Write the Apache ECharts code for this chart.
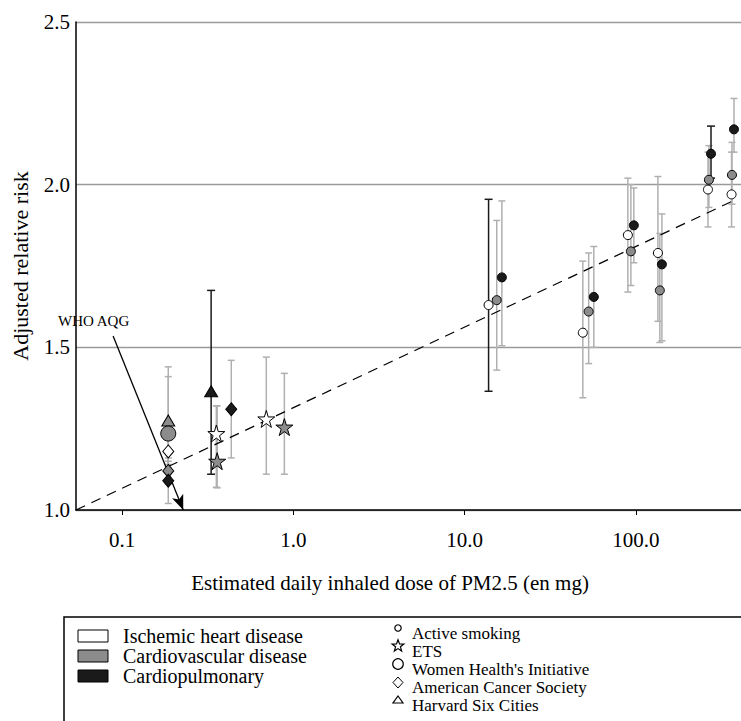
<!DOCTYPE html>
<html>
<head>
<meta charset="utf-8">
<script src="https://cdn.jsdelivr.net/npm/echarts@6.0.0/dist/echarts.min.js"></script>
<style>
  html, body { margin: 0; padding: 0; background: #fff; }
  #chart { width: 741px; height: 721px; }
</style>
</head>
<body>
<div id="chart"></div>
<script>
// dose (mg/day), adjusted RR and its CI, per estimate
var doses = [0.186, 0.186, 0.186, 0.186, 0.186,
    0.331, 0.355, 0.359, 0.434, 0.695, 0.886,
    13.8, 15.4, 16.5,
    49, 53, 56.8,
    89.8, 93.5, 97.3,
    134.5, 138, 141.9,
    263.6, 267, 274.6,
    362, 364, 374];
var riskRR = [1.275, 1.235, 1.18, 1.12, 1.09,
    1.365, 1.235, 1.15, 1.31, 1.28, 1.255,
    1.63, 1.645, 1.715,
    1.545, 1.61, 1.655,
    1.845, 1.795, 1.875,
    1.79, 1.675, 1.755,
    1.985, 2.015, 2.095,
    1.97, 2.03, 2.17];
var ciLow = [1.13, 1.09, 1.14, 1.08, 1.02,
    1.11, 1.07, 1.068, 1.16, 1.11, 1.11,
    1.365, 1.43, 1.505,
    1.345, 1.45, 1.50,
    1.67, 1.69, 1.76,
    1.58, 1.515, 1.52,
    1.87, 1.93, 2.02,
    1.87, 1.94, 2.10];
var ciHigh = [1.44, 1.41, 1.23, 1.15, 1.16,
    1.675, 1.32, 1.32, 1.46, 1.47, 1.42,
    1.955, 1.89, 1.95,
    1.765, 1.79, 1.81,
    2.02, 2.00, 1.99,
    2.025, 1.85, 1.91,
    2.10, 2.12, 2.18,
    2.10, 2.13, 2.265];
var outcome = ['CVD', 'CVD', 'IHD', 'CVD', 'CP',
    'CP', 'IHD', 'CVD', 'CP', 'IHD', 'CVD',
    'IHD', 'CVD', 'CP',
    'IHD', 'CVD', 'CP',
    'IHD', 'CVD', 'CP',
    'IHD', 'CVD', 'CP',
    'IHD', 'CVD', 'CP',
    'IHD', 'CVD', 'CP'];
var source = ['Harvard', 'WHI', 'ACS', 'ACS', 'ACS',
    'Harvard', 'ETS', 'ETS', 'ACS', 'ETS', 'ETS',
    'Smoking', 'Smoking', 'Smoking',
    'Smoking', 'Smoking', 'Smoking',
    'Smoking', 'Smoking', 'Smoking',
    'Smoking', 'Smoking', 'Smoking',
    'Smoking', 'Smoking', 'Smoking',
    'Smoking', 'Smoking', 'Smoking'];
var darkBars = [5, 11, 25];

// fitted line and WHO AQG arrow
var fitLine = [[0.0538, 1.0], [385, 1.955]];
var aqgArrow = [[0.0886, 1.535], [0.2275, 1.0]];

var xTicks = [0.1, 1, 10, 100];

var outcomeNames = {
    IHD: 'Ischemic heart disease',
    CVD: 'Cardiovascular disease',
    CP: 'Cardiopulmonary'
};
var fills = {IHD: '#ffffff', CVD: '#8c8c8c', CP: '#1a1a1a'};
var starPath = 'path://M50,0 L61,35 L98,35 L68,57 L79,91 L50,70 L21,91 L32,57 L2,35 L39,35 Z';
var symbols = {
    Smoking: {symbol: 'circle', size: 9},
    WHI: {symbol: 'circle', size: 15},
    ACS: {symbol: 'diamond', size: [11, 13]},
    Harvard: {symbol: 'triangle', size: [13, 11]},
    ETS: {symbol: starPath, size: 17}
};

var font = "'Liberation Serif', 'Times New Roman', serif";
var chart = echarts.init(document.getElementById('chart'), null, {renderer: 'svg'});

var pointSeries = ['IHD', 'CVD', 'CP'].map(function (o) {
    var data = [];
    doses.forEach(function (d, i) {
        if (outcome[i] !== o) return;
        var s = symbols[source[i]];
        data.push({value: [d, riskRR[i]], symbol: s.symbol, symbolSize: s.size});
    });
    return {
        name: outcomeNames[o],
        type: 'scatter',
        z: 5,
        itemStyle: {color: fills[o], borderColor: '#000', borderWidth: 1, opacity: 1},
        data: data
    };
});

function legendText(x, y, text, size) {
    return {
        type: 'text', x: x, y: y,
        style: {text: text, font: size + 'px ' + font, fill: '#000', verticalAlign: 'middle'}
    };
}

chart.setOption({
    backgroundColor: '#fff',
    animation: false,
    textStyle: {fontFamily: font},
    grid: {left: 76, right: 0, top: 22, bottom: 211},
    xAxis: {
        type: 'log',
        logBase: 10,
        min: 0.0538,
        max: 411,
        name: 'Estimated daily inhaled dose of PM2.5 (en mg)',
        nameLocation: 'middle',
        nameGap: 62,
        nameTextStyle: {fontSize: 21, color: '#000', fontFamily: font, padding: [0, 37, 0, 0]},
        axisLine: {lineStyle: {color: '#000', width: 1.5}},
        axisTick: {show: true, length: 5, customValues: xTicks, lineStyle: {color: '#000'}},
        axisLabel: {
            customValues: xTicks,
            margin: 19,
            fontSize: 21,
            color: '#000',
            fontFamily: font,
            formatter: function (v) { return Number(v).toFixed(1); }
        },
        splitLine: {show: false},
        minorTick: {show: false}
    },
    yAxis: {
        type: 'value',
        min: 1,
        max: 2.5,
        interval: 0.5,
        name: 'Adjusted relative risk',
        nameLocation: 'middle',
        nameGap: 45,
        nameTextStyle: {fontSize: 22, color: '#000', fontFamily: font},
        axisLine: {show: true, lineStyle: {color: '#000', width: 1.5}},
        axisTick: {show: false},
        axisLabel: {
            margin: 6,
            fontSize: 21,
            color: '#000',
            fontFamily: font,
            formatter: function (v) { return v.toFixed(1); }
        },
        splitLine: {lineStyle: {color: '#9a9a9a', width: 1.3}}
    },
    series: [
        {
            type: 'custom',
            z: 2,
            renderItem: function (params, api) {
                var x = api.value(0);
                var lo = api.coord([x, api.value(1)]);
                var hi = api.coord([x, api.value(2)]);
                var dark = darkBars.indexOf(api.value(3)) >= 0;
                var st = {stroke: dark ? '#1a1a1a' : '#b0b0b0', lineWidth: 1.5};
                var w = dark ? 4 : 3.5;
                return {
                    type: 'group',
                    children: [
                        {type: 'line', shape: {x1: lo[0], y1: lo[1], x2: hi[0], y2: hi[1]}, style: st},
                        {type: 'line', shape: {x1: lo[0] - w, y1: lo[1], x2: lo[0] + w, y2: lo[1]}, style: st},
                        {type: 'line', shape: {x1: hi[0] - w, y1: hi[1], x2: hi[0] + w, y2: hi[1]}, style: st}
                    ]
                };
            },
            encode: {x: 0, y: [1, 2]},
            data: doses.map(function (d, i) { return [d, ciLow[i], ciHigh[i], i]; })
        },
        {
            type: 'line',
            z: 3,
            symbol: 'none',
            lineStyle: {color: '#000', width: 1.2, type: [10, 7]},
            data: fitLine,
            markLine: {
                silent: true,
                symbol: ['none', 'arrow'],
                symbolSize: [9, 15],
                label: {show: false},
                lineStyle: {color: '#000', width: 1.3, type: 'solid'},
                data: [[{coord: aqgArrow[0]}, {coord: aqgArrow[1]}]]
            }
        }
    ].concat(pointSeries),
    graphic: [
        {type: 'text', left: 58, top: 313, style: {text: 'WHO AQG', font: '15px ' + font, fill: '#000'}},
        // legend frame
        {type: 'rect', shape: {x: 64, y: 617, width: 760, height: 200}, style: {fill: 'none', stroke: '#000', lineWidth: 1.5}},
        {type: 'rect', shape: {x: 78, y: 630, width: 30, height: 12}, style: {fill: fills.IHD, stroke: '#000', lineWidth: 1}},
        {type: 'rect', shape: {x: 78, y: 650, width: 30, height: 12}, style: {fill: fills.CVD, stroke: '#000', lineWidth: 1}},
        {type: 'rect', shape: {x: 78, y: 670, width: 30, height: 12}, style: {fill: fills.CP, stroke: '#000', lineWidth: 1}},
        legendText(123, 636, outcomeNames.IHD, 20),
        legendText(123, 656, outcomeNames.CVD, 20),
        legendText(123, 676, outcomeNames.CP, 20),
        {type: 'circle', shape: {cx: 398, cy: 628, r: 3.2}, style: {fill: '#fff', stroke: '#000', lineWidth: 1.2}},
        {type: 'polygon', shape: {points: (function () {
            var p = [];
            for (var k = 0; k < 10; k++) {
                var r = k % 2 ? 2.6 : 6.2, a = -Math.PI / 2 + k * Math.PI / 5;
                p.push([398 + r * Math.cos(a), 646 + r * Math.sin(a)]);
            }
            return p;
        })()}, style: {fill: '#fff', stroke: '#000', lineWidth: 1.2}},
        {type: 'circle', shape: {cx: 398, cy: 664, r: 5.3}, style: {fill: '#fff', stroke: '#000', lineWidth: 1.2}},
        {type: 'polygon', shape: {points: [[398, 677], [403, 682.5], [398, 688], [393, 682.5]]}, style: {fill: '#fff', stroke: '#000', lineWidth: 1}},
        {type: 'polygon', shape: {points: [[398, 696], [403, 703], [393, 703]]}, style: {fill: '#fff', stroke: '#000', lineWidth: 1.2}},
        legendText(412, 633, 'Active smoking', 17),
        legendText(412, 651, 'ETS', 17),
        legendText(412, 669, "Women Health's Initiative", 17),
        legendText(412, 687, 'American Cancer Society', 17),
        legendText(412, 705, 'Harvard Six Cities', 17)
    ]
});
</script>
</body>
</html>
